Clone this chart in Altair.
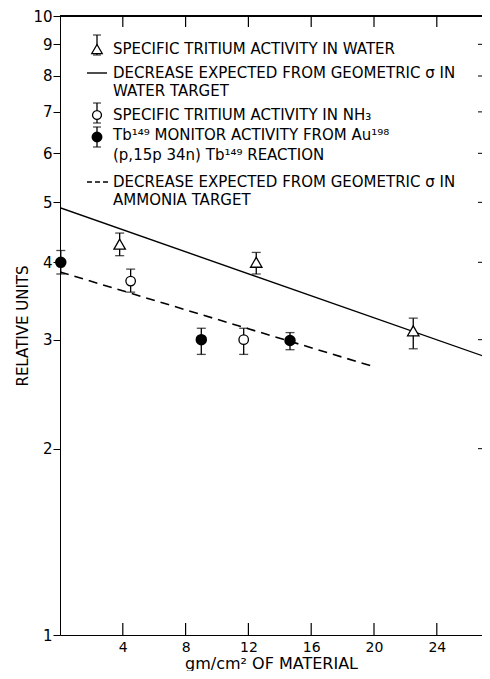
import altair as alt
import pandas as pd

# ---- data ----
water_x = [3.8, 12.5, 22.5]
water_y = [4.28, 4.00, 3.10]
water_lo = [4.10, 3.83, 2.90]
water_hi = [4.46, 4.15, 3.25]

nh3_x = [4.5, 11.7]
nh3_y = [3.73, 3.00]
nh3_lo = [3.58, 2.84]
nh3_hi = [3.90, 3.13]

tb_x = [0.05, 9.0, 14.65]
tb_y = [4.00, 3.00, 2.99]
tb_lo = [3.83, 2.84, 2.89]
tb_hi = [4.18, 3.13, 3.08]

solid_x = [0.0, 27.0]
solid_y = [4.90, 2.82]
dash_x = [0.0, 20.06]
dash_y = [3.86, 2.71]

x_ticks = [4, 8, 12, 16, 20, 24]
y_ticks = [1, 2, 3, 4, 5, 6, 7, 8, 9, 10]
y_side_ticks = [2, 3, 4, 5, 6, 7, 8, 9]

legend_single = [
    "SPECIFIC TRITIUM ACTIVITY IN WATER",
    "SPECIFIC TRITIUM ACTIVITY IN NH₃",
    "Tb¹⁴⁹ MONITOR ACTIVITY FROM Au¹⁹⁸",
    "(p,15p 34n) Tb¹⁴⁹ REACTION",
]
legend_water_line = "DECREASE EXPECTED FROM GEOMETRIC σ IN\nWATER TARGET"
legend_nh3_line = "DECREASE EXPECTED FROM GEOMETRIC σ IN\nAMMONIA TARGET"

# legend layout (pixels inside plot area)
legend_single_y = [33, 99, 119, 139]
LEG_TX = 53
LEG_SX = 37

W, H = 422, 619
XMAX = W / 15.7
FONT = "DejaVu Sans"
LFS = 15

xs = alt.Scale(domain=[0, XMAX], nice=False, zero=False)
ys = alt.Scale(type="log", domain=[1, 10], nice=False)


def pts(xv, yv, lo, hi):
    return pd.DataFrame({"x": xv, "y": yv, "lo": lo, "hi": hi})


water = pts(water_x, water_y, water_lo, water_hi)
nh3 = pts(nh3_x, nh3_y, nh3_lo, nh3_hi)
tb = pts(tb_x, tb_y, tb_lo, tb_hi)
allpts = pd.concat([water, nh3, tb])

X = alt.X("x:Q", scale=xs, axis=alt.Axis(
    values=x_ticks, title="gm/cm² OF MATERIAL", grid=False, ticks=False,
    domainColor="black", labelColor="black", labelFont=FONT, labelFontSize=14,
    titleFont=FONT, titleFontSize=16, titleFontWeight="normal", labelPadding=5,
    titlePadding=1, labelFlush=False))
Y = alt.Y("y:Q", scale=ys, axis=alt.Axis(
    values=y_ticks, format="d", title="RELATIVE UNITS", grid=False,
    tickSize=7, tickColor="black", domainColor="black", labelColor="black",
    labelFont=FONT, labelFontSize=15, labelPadding=1, titleFont=FONT,
    titleFontSize=15, titleFontWeight="normal", titlePadding=2))

base = alt.Chart(allpts)

bars = base.mark_rule(color="black", strokeWidth=1.3).encode(
    x=X, y=alt.Y("lo:Q", scale=ys), y2="hi:Q")
cap_lo = base.mark_tick(color="black", orient="horizontal", size=9, thickness=1.3).encode(
    x=alt.X("x:Q", scale=xs), y=alt.Y("lo:Q", scale=ys))
cap_hi = base.mark_tick(color="black", orient="horizontal", size=9, thickness=1.3).encode(
    x=alt.X("x:Q", scale=xs), y=alt.Y("hi:Q", scale=ys))

tri = alt.Chart(water).mark_point(shape="triangle-up", filled=True, fill="white",
                                  stroke="black", strokeWidth=1.3, size=130, opacity=1).encode(
    x=alt.X("x:Q", scale=xs), y=Y)
circ = alt.Chart(nh3).mark_point(shape="circle", filled=True, fill="white",
                                 stroke="black", strokeWidth=1.3, size=90, opacity=1).encode(
    x=alt.X("x:Q", scale=xs), y=alt.Y("y:Q", scale=ys))
dot = alt.Chart(tb).mark_point(shape="circle", filled=True, fill="black",
                               stroke="black", size=90, opacity=1).encode(
    x=alt.X("x:Q", scale=xs), y=alt.Y("y:Q", scale=ys))

solid = alt.Chart(pd.DataFrame({"x": solid_x, "y": solid_y})).mark_line(
    color="black", strokeWidth=1.4, clip=True).encode(
    x=alt.X("x:Q", scale=xs), y=alt.Y("y:Q", scale=ys))
dash = alt.Chart(pd.DataFrame({"x": dash_x, "y": dash_y})).mark_line(
    color="black", strokeWidth=1.6, strokeDash=[9, 6], clip=True).encode(
    x=alt.X("x:Q", scale=xs), y=alt.Y("y:Q", scale=ys))

# frame: top border, inward ticks top/bottom, right-side ticks
tickdf = pd.DataFrame({"x": x_ticks})
top_border = alt.Chart(tickdf).mark_rule(color="black", strokeWidth=1.2).encode(
    x=alt.value(0), x2=alt.value(W), y=alt.value(0))
top_ticks = alt.Chart(tickdf).mark_rule(color="black", strokeWidth=1.2).encode(
    x=alt.X("x:Q", scale=xs), y=alt.value(0), y2=alt.value(11))
bot_ticks = alt.Chart(tickdf).mark_rule(color="black", strokeWidth=1.2).encode(
    x=alt.X("x:Q", scale=xs), y=alt.value(H), y2=alt.value(H - 12))
sidedf = pd.DataFrame({"y": y_side_ticks})
right_ticks = alt.Chart(sidedf).mark_rule(color="black", strokeWidth=1.0).encode(
    y=alt.Y("y:Q", scale=ys), x=alt.value(W - 4), x2=alt.value(W))

# legend texts
legtxt = pd.DataFrame({"t": legend_single, "py": legend_single_y})
leg_text = alt.Chart(legtxt).mark_text(
    align="left", baseline="middle", font=FONT, fontSize=LFS, color="black").encode(
    x=alt.value(LEG_TX), y=alt.Y("py:Q", scale=None), text="t:N")
leg_text2 = alt.Chart(pd.DataFrame({"t": [legend_water_line], "py": [57]})).mark_text(
    align="left", baseline="middle", font=FONT, fontSize=LFS, color="black",
    lineBreak="\n", lineHeight=18).encode(
    x=alt.value(LEG_TX), y=alt.Y("py:Q", scale=None), text="t:N")
leg_text5 = alt.Chart(pd.DataFrame({"t": [legend_nh3_line], "py": [166]})).mark_text(
    align="left", baseline="middle", font=FONT, fontSize=LFS, color="black",
    lineBreak="\n", lineHeight=18).encode(
    x=alt.value(LEG_TX), y=alt.Y("py:Q", scale=None), text="t:N")

legsym = pd.DataFrame({
    "kind": ["tri", "open", "fill"],
    "py": [33, 99, 121],
    "lo": [39, 107, 131],
    "hi": [19, 87, 111],
})
leg_bars = alt.Chart(legsym).mark_rule(color="black", strokeWidth=1.3).encode(
    x=alt.value(LEG_SX), y=alt.Y("lo:Q", scale=None), y2="hi:Q")
leg_caps1 = alt.Chart(legsym).mark_tick(color="black", orient="horizontal", size=8, thickness=1.3).encode(
    x=alt.value(LEG_SX), y=alt.Y("lo:Q", scale=None))
leg_caps2 = alt.Chart(legsym).mark_tick(color="black", orient="horizontal", size=8, thickness=1.3).encode(
    x=alt.value(LEG_SX), y=alt.Y("hi:Q", scale=None))
leg_tri = alt.Chart(legsym[legsym.kind == "tri"]).mark_point(
    shape="triangle-up", filled=True, fill="white", stroke="black", strokeWidth=1.3, size=110, opacity=1).encode(
    x=alt.value(LEG_SX), y=alt.Y("py:Q", scale=None))
leg_open = alt.Chart(legsym[legsym.kind == "open"]).mark_point(
    shape="circle", filled=True, fill="white", stroke="black", strokeWidth=1.3, size=80, opacity=1).encode(
    x=alt.value(LEG_SX), y=alt.Y("py:Q", scale=None))
leg_fill = alt.Chart(legsym[legsym.kind == "fill"]).mark_point(
    shape="circle", filled=True, fill="black", stroke="black", size=80, opacity=1).encode(
    x=alt.value(LEG_SX), y=alt.Y("py:Q", scale=None))
leg_solid = alt.Chart(pd.DataFrame({"py": [57]})).mark_rule(color="black", strokeWidth=1.4).encode(
    x=alt.value(27), x2=alt.value(47), y=alt.Y("py:Q", scale=None))
leg_dash = alt.Chart(pd.DataFrame({"py": [166]})).mark_rule(
    color="black", strokeWidth=1.6, strokeDash=[5, 3]).encode(
    x=alt.value(27), x2=alt.value(51), y=alt.Y("py:Q", scale=None))

chart = alt.layer(
    bars, cap_lo, cap_hi, solid, dash, tri, circ, dot,
    top_border, top_ticks, bot_ticks, right_ticks,
    leg_text, leg_text2, leg_text5, leg_bars, leg_caps1, leg_caps2,
    leg_tri, leg_open, leg_fill, leg_solid, leg_dash,
).properties(
    width=W, height=H,
    autosize=alt.AutoSizeParams(type="none"),
    padding={"left": 52, "top": 8, "right": 0, "bottom": 36},
    background="white",
).configure_view(stroke=None)

chart.save("out.html", embed_options={"renderer": "svg", "actions": False})
